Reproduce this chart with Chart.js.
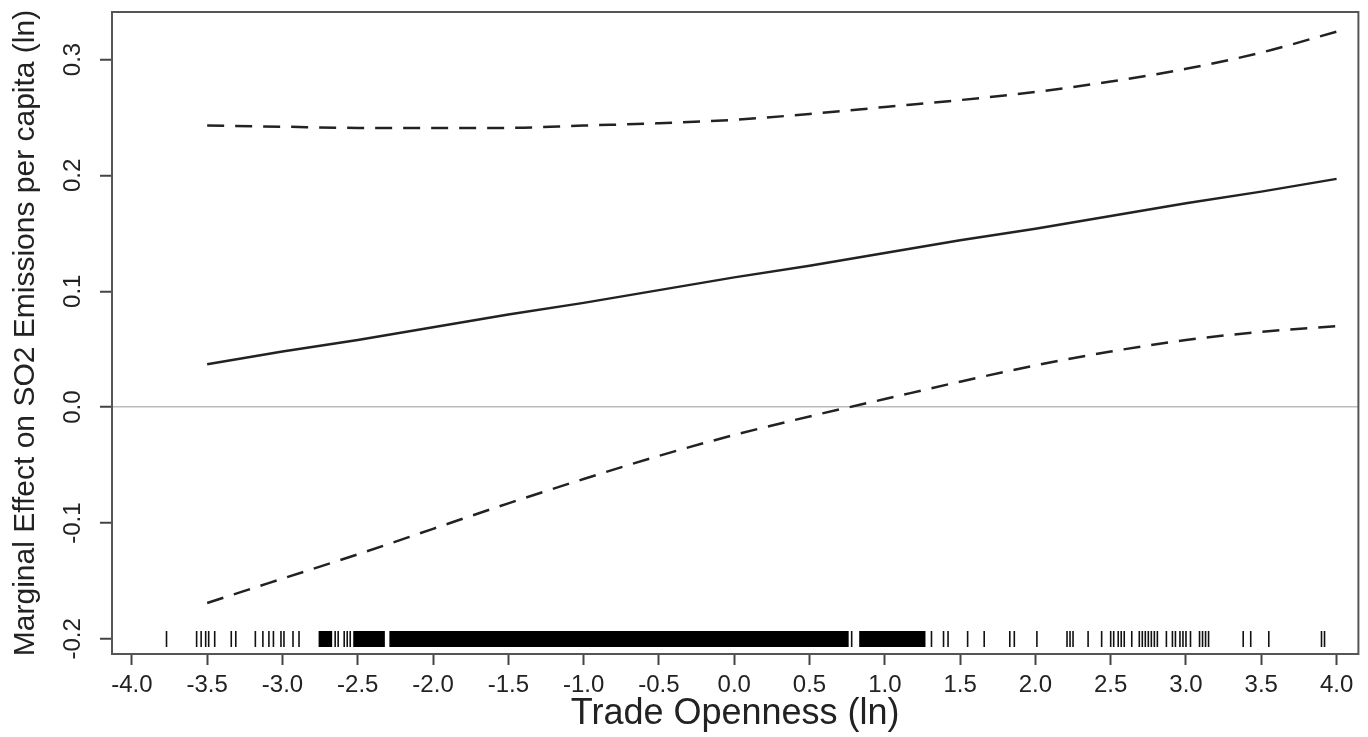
<!DOCTYPE html>
<html lang="en">
<head>
    <meta charset="UTF-8">
    <title>Marginal Effect of Trade Openness</title>
    <script src="https://cdn.jsdelivr.net/npm/chart.js"></script>
    <style>
        body { margin: 0; background: #fff; }
        #chart-container {
            width: 1368px;
            height: 737px;
        }
    </style>
</head>
<body>
    <div id="chart-container">
        <canvas id="effectChart"></canvas>
    </div>
    <script>
        // trade openness (ln) grid where the effect is evaluated
        var xVals = [-3.5, -3.0, -2.5, -2.0, -1.5, -1.0, -0.5, 0.0, 0.5, 1.0, 1.5, 2.0, 2.5, 3.0, 3.5, 4.0];
        // marginal effect and 95% bounds
        var effect = [0.037, 0.048, 0.058, 0.069, 0.080, 0.090, 0.101, 0.112, 0.122, 0.133, 0.144, 0.154, 0.165, 0.176, 0.186, 0.197];
        var upperCI = [0.243, 0.242, 0.241, 0.241, 0.241, 0.243, 0.245, 0.248, 0.253, 0.259, 0.265, 0.272, 0.281, 0.292, 0.306, 0.324];
        var lowerCI = [-0.169, -0.148, -0.127, -0.105, -0.083, -0.062, -0.042, -0.024, -0.008, 0.007, 0.022, 0.036, 0.048, 0.058, 0.065, 0.070];

        // rug of observed trade openness values
        var rugX = [-3.77, -3.57, -3.54, -3.51, -3.49, -3.45, -3.34, -3.31,
                    -3.18, -3.13, -3.09, -3.06, -3.01, -2.99, -2.93, -2.89,
                    -2.65, -2.63, -2.59, -2.57, -2.55, 0.78,
                    1.31, 1.39, 1.42, 1.55, 1.66, 1.83, 1.86, 2.01,
                    2.21, 2.23, 2.25, 2.35, 2.44, 2.50, 2.52, 2.55, 2.57, 2.59, 2.64,
                    2.69, 2.71, 2.73, 2.75, 2.77, 2.79, 2.81, 2.87,
                    2.91, 2.93, 2.96, 2.98, 3.00, 3.03, 3.09, 3.11, 3.13, 3.15,
                    3.38, 3.43, 3.55, 3.90, 3.92];
        // ranges where the rug is too dense to separate ticks
        var rugBands = [[-2.76, -2.67], [-2.53, -2.32], [-2.29, 0.76], [0.83, 1.27]];
        var rugLevel = -0.2;

        var xTicks = [-4.0, -3.5, -3.0, -2.5, -2.0, -1.5, -1.0, -0.5, 0.0, 0.5, 1.0, 1.5, 2.0, 2.5, 3.0, 3.5, 4.0];
        var yTicks = [-0.2, -0.1, 0.0, 0.1, 0.2, 0.3];

        function pairs(xs, ys) {
            return xs.map(function(x, i) { return {x: x, y: ys[i]}; });
        }

        var datasets = [
            {
                type: 'line', data: pairs(xVals, upperCI),
                borderColor: '#222', borderWidth: 2.5, borderDash: [17, 11],
                pointRadius: 0, cubicInterpolationMode: 'monotone'
            },
            {
                type: 'line', data: pairs(xVals, lowerCI),
                borderColor: '#222', borderWidth: 2.5, borderDash: [17, 11],
                pointRadius: 0, cubicInterpolationMode: 'monotone'
            },
            {
                type: 'line', data: pairs(xVals, effect),
                borderColor: '#222', borderWidth: 2.5,
                pointRadius: 0
            },
            {
                type: 'scatter',
                data: rugX.map(function(x) { return {x: x, y: rugLevel}; }),
                pointStyle: 'line', rotation: 90, pointRadius: 8,
                borderColor: '#111', pointBorderWidth: 1.6, pointHoverRadius: 8
            }
        ];
        rugBands.forEach(function(b) {
            datasets.push({
                type: 'line',
                data: [{x: b[0], y: rugLevel}, {x: b[1], y: rugLevel}],
                borderColor: '#000', borderWidth: 16, pointRadius: 0
            });
        });

        // box round the plotting region, R style
        var boxPlugin = {
            id: 'box',
            afterDraw: function(chart) {
                var a = chart.chartArea, c = chart.ctx;
                c.save();
                c.strokeStyle = '#555';
                c.lineWidth = 2;
                c.strokeRect(a.left, a.top, a.right - a.left, a.bottom - a.top);
                c.restore();
            }
        };

        var ctx = document.getElementById('effectChart').getContext('2d');
        new Chart(ctx, {
            data: { datasets: datasets },
            plugins: [boxPlugin],
            options: {
                responsive: true,
                maintainAspectRatio: false,
                animation: false,
                layout: { padding: { top: 12, right: 3, left: 0, bottom: 0 } },
                plugins: {
                    legend: { display: false },
                    tooltip: { enabled: false }
                },
                scales: {
                    x: {
                        type: 'linear',
                        min: -4.132,
                        max: 4.145,
                        afterBuildTicks: function(s) { s.ticks = xTicks.map(function(v) { return {value: v}; }); },
                        afterFit: function(s) { s.height = 83; s.paddingLeft = 0; s.paddingRight = 0; },
                        border: { display: false },
                        grid: { drawOnChartArea: false, drawTicks: true, tickLength: 11, tickColor: '#444', tickWidth: 2 },
                        ticks: {
                            color: '#222',
                            padding: 6,
                            maxRotation: 0,
                            font: { family: 'Liberation Sans', size: 24 },
                            callback: function(v) { return Number(v).toFixed(1); }
                        },
                        title: {
                            display: true,
                            text: 'Trade Openness (ln)',
                            color: '#222',
                            font: { family: 'Liberation Sans', size: 36 },
                            padding: { top: 0, bottom: 1 }
                        }
                    },
                    y: {
                        type: 'linear',
                        min: -0.213,
                        max: 0.341,
                        afterBuildTicks: function(s) { s.ticks = yTicks.map(function(v) { return {value: v}; }); },
                        afterFit: function(s) { s.width = 112; s.paddingTop = 0; s.paddingBottom = 0; },
                        border: { display: false },
                        grid: {
                            drawTicks: true, tickLength: 12, tickColor: '#444', tickWidth: 2,
                            lineWidth: 1.5,
                            color: function(c) { return c.tick && c.tick.value === 0 ? '#bbb' : 'rgba(0,0,0,0)'; }
                        },
                        ticks: {
                            color: '#222',
                            padding: 6,
                            minRotation: 90,
                            maxRotation: 90,
                            crossAlign: 'center',
                            font: { family: 'Liberation Sans', size: 24 },
                            callback: function(v) { return Number(v).toFixed(1); }
                        },
                        title: {
                            display: true,
                            text: 'Marginal Effect on SO2 Emissions per capita (ln)',
                            color: '#222',
                            font: { family: 'Liberation Sans', size: 30 },
                            padding: { top: 8, bottom: 0 }
                        }
                    }
                }
            }
        });
    </script>
</body>
</html>
